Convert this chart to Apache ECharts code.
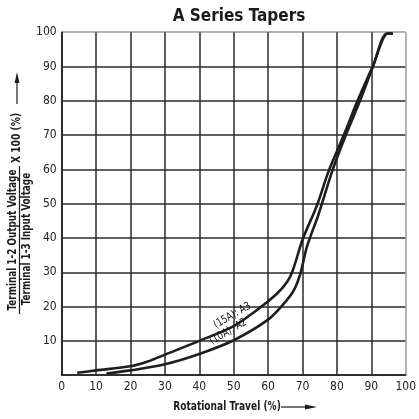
<!DOCTYPE html>
<html><head><meta charset="utf-8">
<script src="https://cdn.jsdelivr.net/npm/echarts@6/dist/echarts.min.js"></script>
<style>html,body{margin:0;padding:0;background:#fff}#c{width:419px;height:419px}</style>
</head><body><div id="c"></div>
<script>
var xTicks = [0,10,20,30,40,50,60,70,80,90,100];
var yTicks = [0,10,20,30,40,50,60,70,80,90,100];
var seriesA3 = [[4.5,0.7],[10,1.4],[20,2.6],[25,4.0],[30,6.0],[40,10.0],[50,14.3],[57,19.2],[62.7,23.9],[65.6,27.3],[67.2,30.6],[70,39.5],[74.2,49.5],[77.6,59.5],[82,70],[86,80],[90.4,90],[94.8,99.6],[96.3,99.6]];
var seriesA2 = [[13,0.5],[20,1.4],[30,3.2],[40,6.2],[50,10.2],[60,16.2],[64.7,21],[67.5,24.8],[69.4,29.7],[71.3,37.5],[74.7,47],[78.8,60],[82.6,70],[86.7,80],[90.5,90],[94.5,99.6],[96.3,99.6]];
var curveLabels = [[49.6,17.4,'(15A): A3'],[48.4,12.7,'(10A): A2']];

var FONT = '"Liberation Sans Narrow","DejaVu Sans Condensed",sans-serif';
var gridColors = yTicks.map(function(v,i){return i===yTicks.length-1?'#9a9a9a':'#2a2a2a';});
var chart = echarts.init(document.getElementById('c'), null, {renderer:'canvas'});
var lineStyle = {color:'#1e1e1e', width:2.6};
var TXT = {align:'center', verticalAlign:'middle', font:'bold 12px '+FONT, fill:'#1a1a1a'};
function st(t){var o={};for(var k in TXT)o[k]=TXT[k];o.text=t;return o;}
var titleGraphics = [
  {type:'text', x:13, y:240, rotation:Math.PI/2, scaleX:0.82, style:st('Terminal 1-2 Output Voltage')},
  {type:'line', shape:{x1:19.5, y1:166, x2:19.5, y2:314}, style:{stroke:'#1a1a1a', lineWidth:1.2}},
  {type:'text', x:26.5, y:239, rotation:Math.PI/2, scaleX:0.82, style:st('Terminal 1-3 Input Voltage')},
  {type:'text', x:16.5, y:138, rotation:Math.PI/2, scaleX:0.85, style:st('X 100 (%)')},
  {type:'line', shape:{x1:17, y1:104, x2:17, y2:80}, style:{stroke:'#1a1a1a', lineWidth:1.2}},
  {type:'polygon', shape:{points:[[17,72],[14.6,83],[19.4,83]]}, style:{fill:'#1a1a1a'}},
  {type:'text', x:227, y:407, scaleX:0.84, style:st('Rotational Travel (%)')},
  {type:'line', shape:{x1:281, y1:407, x2:306, y2:407}, style:{stroke:'#1a1a1a', lineWidth:1.2}},
  {type:'polygon', shape:{points:[[317,407],[305,404.6],[305,409.4]]}, style:{fill:'#1a1a1a'}}
];
chart.setOption({
  animation:false,
  backgroundColor:'#fff',
  title:{text:'A Series Tapers', left:234, top:3, textAlign:'center',
    textStyle:{fontFamily:FONT, fontWeight:'bold', fontSize:17, color:'#1a1a1a'}},
  grid:{left:61.7, right:10, top:32.2, bottom:43.8, show:false},
  xAxis:{type:'value', min:xTicks[0], max:xTicks[xTicks.length-1], interval:10,
    axisLine:{show:true, lineStyle:{color:'#222', width:1.6}},
    axisTick:{show:false},
    axisLabel:{color:'#222', fontFamily:FONT, fontSize:12, margin:6},
    splitLine:{show:true, lineStyle:{color:gridColors, width:1.5}}},
  yAxis:{type:'value', min:yTicks[0], max:yTicks[yTicks.length-1], interval:10,
    axisLine:{show:true, lineStyle:{color:'#222', width:1.6}},
    axisTick:{show:false},
    axisLabel:{color:'#222', fontFamily:FONT, fontSize:12, margin:5,
      formatter:function(v){return v===0?'':String(v);}},
    splitLine:{show:true, lineStyle:{color:gridColors, width:1.5}}},
  series:[
    {type:'line', name:'A3', data:seriesA3, smooth:0.3, symbol:'none', lineStyle:lineStyle, z:3},
    {type:'line', name:'A2', data:seriesA2, smooth:0.3, symbol:'none', lineStyle:lineStyle, z:3}
  ],
  graphic:titleGraphics
});
var labelGraphics = curveLabels.map(function(d){
  var p = chart.convertToPixel({gridIndex:0}, [d[0], d[1]]);
  return {type:'text', x:p[0], y:p[1], rotation:30*Math.PI/180, scaleX:0.88, z:10,
    style:{text:d[2], align:'center', verticalAlign:'middle', font:'11px '+FONT, fill:'#1a1a1a'}};
});
chart.setOption({graphic:titleGraphics.concat(labelGraphics)});
</script></body></html>
